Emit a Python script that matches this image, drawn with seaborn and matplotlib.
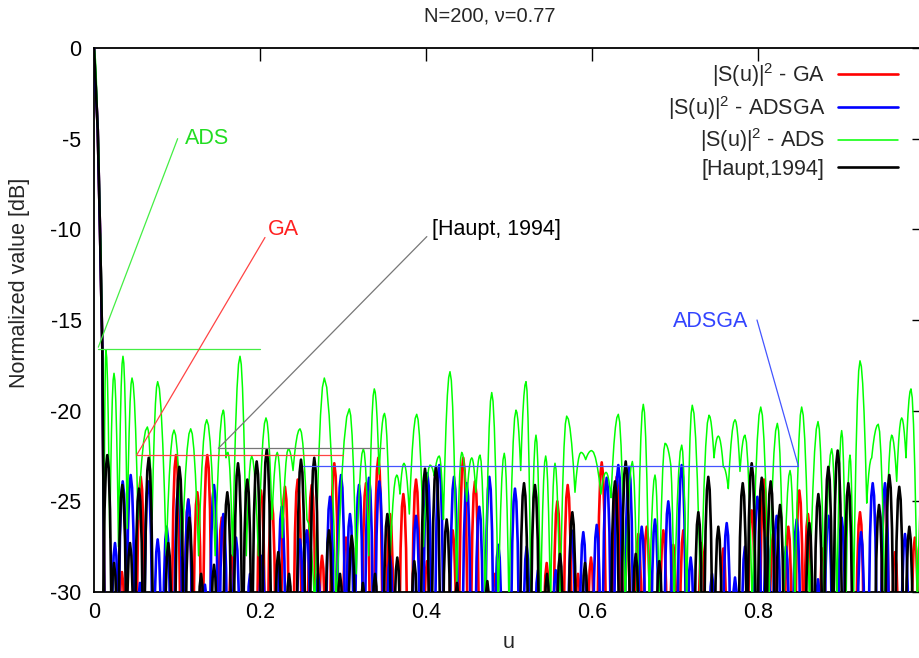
import matplotlib
matplotlib.use("Agg")
import matplotlib.pyplot as plt
import pandas as pd
import seaborn as sns
from matplotlib.lines import Line2D

# ---------------- data ----------------
TITLE = "N=200, ν=0.77"
X_LABEL = "u"
Y_LABEL = "Normalized value [dB]"
x_ticks = [0.0, 0.2, 0.4, 0.6, 0.8]
x_tick_labels = ["0", "0.2", "0.4", "0.6", "0.8"]
y_ticks = [0, -5, -10, -15, -20, -25, -30]

series_names = ["|S(u)|$^2$ - GA", "|S(u)|$^2$ - ADSGA", "|S(u)|$^2$ - ADS", "[Haupt,1994]"]

# main lobe (shared by all patterns)
main_u = [0.0, 0.0045, 0.0072, 0.0100, 0.0125]
main_db = [0.0, -4.5, -10.0, -16.5, -31.0]

# ADS pattern: peaks and troughs in order
ads_u = [0.0, 0.0045, 0.0072, 0.010, 0.0118, 0.0144, 0.019, 0.0241, 0.0295, 0.0349, 0.040, 0.0458,
         0.053, 0.0643, 0.070, 0.0767, 0.087, 0.0964, 0.106, 0.1165, 0.126, 0.1358, 0.146, 0.1558,
         0.159, 0.1614, 0.167, 0.1759, 0.1835, 0.190, 0.198, 0.2072, 0.2145, 0.2208, 0.227, 0.2341,
         0.2398, 0.2482, 0.2566, 0.266, 0.2775, 0.292, 0.3076, 0.316, 0.3245, 0.331, 0.3377, 0.3435,
         0.350, 0.357, 0.3647, 0.3687, 0.3735, 0.3799, 0.3888, 0.397, 0.4048, 0.410, 0.416, 0.421,
         0.4289, 0.437, 0.443, 0.449, 0.4551, 0.460, 0.4651, 0.4715, 0.4792, 0.487, 0.4943, 0.500,
         0.5084, 0.5141, 0.5205, 0.5265, 0.5325, 0.538, 0.5442, 0.550, 0.5554, 0.5615, 0.5695, 0.5795,
         0.5867, 0.5924, 0.5996, 0.6108, 0.6169, 0.6229, 0.6317, 0.640, 0.6486, 0.6545, 0.6618, 0.669,
         0.6759, 0.681, 0.688, 0.694, 0.699, 0.7081, 0.714, 0.7208, 0.731, 0.741, 0.747, 0.7522,
         0.7582, 0.7642, 0.7723, 0.7783, 0.7843, 0.793, 0.8033, 0.813, 0.8233, 0.831, 0.8386, 0.8445,
         0.8526, 0.862, 0.8723, 0.880, 0.8888, 0.895, 0.9008, 0.906, 0.9108, 0.915, 0.9229, 0.931,
         0.937, 0.9449, 0.953, 0.961, 0.9671, 0.9731, 0.9783, 0.9843, 0.992, 1.0]
ads_db = [0.0, -4.5, -10.0, -16.5, -28.5, -16.66, -27.0, -17.94, -27.5, -17.0, -26.5, -18.2,
          -26.0, -20.9, -26.0, -18.4, -28.0, -21.07, -28.0, -21.0, -28.0, -20.5, -28.0, -19.97,
          -22.6, -22.3, -28.0, -17.0, -28.0, -22.5, -28.0, -20.4, -26.0, -22.3, -27.0, -22.1,
          -23.3, -21.0, -26.0, -31.0, -18.2, -31.0, -19.9, -29.0, -22.1, -28.0, -18.8, -23.5,
          -20.15, -28.0, -23.55, -24.6, -22.9, -25.7, -20.2, -27.5, -23.0, -23.6, -22.5, -26.0,
          -17.85, -30.0, -22.3, -25.0, -22.6, -24.5, -22.45, -31.0, -19.0, -31.0, -22.35, -31.0,
          -19.97, -23.3, -18.4, -31.0, -21.35, -31.0, -22.5, -31.0, -22.9, -31.0, -20.3, -24.5,
          -22.3, -22.7, -22.2, -24.6, -23.4, -24.8, -20.2, -31.0, -22.8, -31.0, -19.65, -31.0,
          -23.55, -31.0, -21.8, -22.7, -31.0, -21.9, -31.0, -19.7, -31.0, -20.25, -22.6, -21.4,
          -23.1, -24.3, -20.5, -23.35, -21.35, -31.0, -19.8, -31.0, -20.7, -31.0, -23.3, -31.0,
          -19.8, -31.0, -20.6, -31.0, -22.1, -31.0, -21.1, -31.0, -22.45, -31.0, -17.25, -25.1,
          -22.6, -20.75, -31.0, -21.35, -23.9, -20.4, -22.6, -18.8, -31.0, -22.0]

# GA pattern: side-lobe peaks
ga_peak_u = [0.0337, 0.0563, 0.0988, 0.1136, 0.1245, 0.1365, 0.1539, 0.166, 0.2012, 0.2141, 0.2301,
             0.2454, 0.2623, 0.2747, 0.2895, 0.3036, 0.3277, 0.3425, 0.3566, 0.3727, 0.388, 0.4012,
             0.4322, 0.4449, 0.459, 0.483, 0.5454, 0.5582, 0.5707, 0.5831, 0.5988, 0.6117, 0.6298,
             0.6422, 0.6558, 0.6659, 0.6859, 0.698, 0.710, 0.7322, 0.7582, 0.7924, 0.8072, 0.8181,
             0.8365, 0.8498, 0.8602, 0.878, 0.9229, 0.953, 0.9651, 0.989]
ga_peak_db = [-28.9, -23.65, -22.45, -24.9, -24.5, -22.45, -25.9, -28.0, -24.4, -25.0, -24.2,
              -23.8, -24.1, -28.0, -22.9, -27.0, -24.0, -22.6, -25.7, -24.6, -23.8, -28.3,
              -26.6, -22.6, -23.9, -29.0, -28.4, -25.0, -24.1, -29.0, -28.1, -22.85, -23.65,
              -27.0, -26.8, -26.4, -26.6, -27.4, -26.6, -27.3, -27.6, -25.5, -23.8, -26.8,
              -26.4, -24.4, -25.7, -27.6, -25.6, -24.4, -27.8, -27.0]

# ADSGA pattern: side-lobe peaks
adsga_peak_u = [0.0253, 0.0346, 0.0442, 0.0554, 0.0654, 0.0767, 0.0876, 0.1016, 0.1136, 0.1337,
                0.1446, 0.1558, 0.1711, 0.188, 0.2024, 0.2261, 0.2482, 0.2563, 0.2699, 0.2843,
                0.2976, 0.3084, 0.3193, 0.3313, 0.3437, 0.3566, 0.388, 0.4016, 0.416, 0.4337,
                0.449, 0.4642, 0.4763, 0.4871, 0.5072, 0.5213, 0.5349, 0.5563, 0.5755, 0.5895,
                0.6057, 0.6177, 0.6317, 0.6446, 0.6599, 0.6759, 0.6919, 0.7081, 0.7189, 0.7446,
                0.7623, 0.7723, 0.7843, 0.7992, 0.8108, 0.8225, 0.8337, 0.8466, 0.8723, 0.8847,
                0.9008, 0.9241, 0.9382, 0.953, 0.9771]
adsga_peak_db = [-27.3, -23.9, -23.55, -29.5, -23.9, -27.1, -26.4, -24.2, -24.9, -29.6,
                 -24.1, -25.7, -27.0, -29.0, -28.0, -25.3, -27.1, -26.6, -29.0, -24.75,
                 -23.55, -25.7, -24.1, -23.7, -23.9, -28.0, -25.8, -23.45, -23.0, -23.65,
                 -24.0, -25.3, -23.65, -27.4, -24.3, -27.5, -28.8, -28.8, -26.6, -26.7,
                 -26.3, -23.7, -23.0, -23.1, -26.4, -26.0, -25.0, -23.0, -28.1, -29.0,
                 -26.2, -29.2, -27.5, -24.75, -27.0, -25.8, -27.5, -26.0, -29.3, -25.8,
                 -25.9, -26.7, -24.0, -24.0, -26.8]

# [Haupt, 1994] pattern: side-lobe peaks
haupt_peak_u = [0.016, 0.0241, 0.0341, 0.0434, 0.0542, 0.0659, 0.0895, 0.1028, 0.1148, 0.129,
                0.1446, 0.1606, 0.1735, 0.1847, 0.196, 0.2081, 0.222, 0.235, 0.2494, 0.2654,
                0.2831, 0.2964, 0.3105, 0.324, 0.3386, 0.3534, 0.3654, 0.3859, 0.3988, 0.412,
                0.4249, 0.4373, 0.4739, 0.5181, 0.5313, 0.5458, 0.5614, 0.5763, 0.5916, 0.6277,
                0.6406, 0.6527, 0.6811, 0.7281, 0.7401, 0.7522, 0.7816, 0.7924, 0.8045, 0.8153,
                0.8265, 0.8618, 0.8727, 0.8847, 0.896, 0.9088, 0.9458, 0.9582, 0.9702, 0.9823]
haupt_peak_db = [-22.45, -28.4, -24.1, -27.3, -24.3, -22.6, -27.3, -23.1, -25.9, -29.0,
                 -28.5, -24.5, -22.9, -23.8, -22.8, -22.15, -27.8, -29.0, -22.7, -22.6,
                 -26.6, -29.0, -26.9, -29.5, -29.0, -25.7, -28.1, -28.3, -23.2, -23.1,
                 -26.0, -29.5, -29.4, -24.0, -24.1, -29.0, -27.9, -25.6, -28.4, -23.9,
                 -22.8, -27.9, -28.3, -25.6, -23.65, -26.4, -24.0, -22.9, -23.7, -23.9,
                 -25.2, -26.2, -24.6, -23.1, -22.2, -24.0, -25.2, -23.55, -24.2, -26.4]

# annotations: label text, label position, leader line, level line
ann_labels = ["ADS", "GA", "[Haupt, 1994]", "ADSGA"]
ann_text_u = [0.1096, 0.2096, 0.4072, 0.6976]
ann_text_db = [-5.0, -10.0, -10.0, -15.1]
ann_lead_u = [(0.1008, 0.0052), (0.206, 0.0514), (0.401, 0.1498), (0.7988, 0.8486)]
ann_lead_db = [(-5.0, -16.5), (-10.45, -22.45), (-10.4, -22.08), (-15.0, -23.05)]
ann_level_u = [(0.005, 0.2), (0.0514, 0.3), (0.1498, 0.35), (0.2518, 0.8486)]
ann_level_db = [-16.62, -22.45, -22.08, -23.05]

# ---------------- styling ----------------
W, H, DPI = 920, 658, 100
FS = 15.5
FLOOR = -45.0
LOBE_W = 0.0066
# side-lobe drawing profile (offset in half-widths, dB below the peak)
SHAPE_DX = [-1.0, -0.9, -0.75, -0.5, -0.25, 0.0, 0.25, 0.5, 0.75, 0.9, 1.0]
SHAPE_DROP = [None, 16.1, 8.3, 3.0, 0.7, 0.0, 0.7, 3.0, 8.3, 16.1, None]
SEG_F = [0.0, 0.2, 0.4, 0.6, 0.8]
colors = ["#ff0000", "#0000ff", "#00ff00", "#000000"]
widths = [1.9, 1.9, 1.1, 1.9]
ann_colors = ["#22dd22", "#ff2020", "#000000", "#3344ff"]
ann_line_colors = ["#44ee44", "#ff4444", "#777777", "#4455ff"]

sns.set_style("white")
plt.rcParams["font.family"] = ["Liberation Sans", "DejaVu Sans"]
plt.rcParams["mathtext.default"] = "regular"
plt.rcParams["axes.unicode_minus"] = False


def lobe_frame(name, pu, pdb):
    rows = [(name, -1, u, d) for u, d in zip(main_u, main_db)]
    for k, (u, d) in enumerate(zip(pu, pdb)):
        for dx, drop in zip(SHAPE_DX, SHAPE_DROP):
            y = FLOOR if drop is None else d - drop
            rows.append((name, k, u + dx * LOBE_W, y))
    return pd.DataFrame(rows, columns=["series", "lobe", "u", "db"])


def profile_frame(name, ku, kdb):
    # joins successive peak / trough readings with lobe-like (flat-topped) segments
    rows = []
    for i in range(len(ku) - 1):
        u0, d0, u1, d1 = ku[i], kdb[i], ku[i + 1], kdb[i + 1]
        for f in SEG_F:
            if d0 >= d1:
                d = d0 - (d0 - d1) * f ** 2
            else:
                d = d1 - (d1 - d0) * (1 - f) ** 2
            rows.append((name, 0, u0 + f * (u1 - u0), d))
    rows.append((name, 0, ku[-1], kdb[-1]))
    return pd.DataFrame(rows, columns=["series", "lobe", "u", "db"])


frames = [
    lobe_frame(series_names[0], ga_peak_u, ga_peak_db),
    lobe_frame(series_names[1], adsga_peak_u, adsga_peak_db),
    profile_frame(series_names[2], ads_u, ads_db),
    lobe_frame(series_names[3], haupt_peak_u, haupt_peak_db),
]

fig = plt.figure(figsize=(W / DPI, H / DPI), dpi=DPI)
ax = fig.add_axes([94 / W, 66 / H, 830 / W, 544 / H])

for i, df in enumerate(frames):
    sns.lineplot(data=df, x="u", y="db", units="lobe", estimator=None, sort=False,
                 color=colors[i], lw=widths[i], ax=ax, legend=False, zorder=2 + i)

# annotations
for i, lab in enumerate(ann_labels):
    ax.plot(ann_lead_u[i], ann_lead_db[i], color=ann_line_colors[i], lw=0.9, zorder=7)
    ax.plot(ann_level_u[i], [ann_level_db[i]] * 2, color=ann_line_colors[i], lw=0.9, zorder=7)
    ax.text(ann_text_u[i], ann_text_db[i], lab, color=ann_colors[i], fontsize=FS,
            ha="left", va="center", zorder=8)

ax.set_xlim(0, 1)
ax.set_ylim(-30, 0)
ax.set_xticks(x_ticks)
ax.set_xticklabels(x_tick_labels)
ax.set_yticks(y_ticks)
ax.tick_params(direction="in", length=9, width=1, top=True, right=True,
               labelsize=FS, colors="black")
ax.tick_params(axis="x", pad=7)
ax.tick_params(axis="y", pad=9)
for s in ax.spines.values():
    s.set_linewidth(1.3)
    s.set_color("black")
ax.set_xlabel("")
ax.set_ylabel("")

fig.text(509 / W, 1 - 643 / H, X_LABEL, fontsize=FS, ha="center", va="center")
fig.text(20 / W, 1 - 283 / H, Y_LABEL, fontsize=FS, ha="center", va="center", rotation=90)
fig.text(490 / W, 1 - 16 / H, TITLE, fontsize=FS - 1, ha="center", va="center")

handles = [Line2D([], [], color=colors[i], lw=widths[i]) for i in range(4)]
fig.legend(handles, series_names, loc="upper right", bbox_to_anchor=(898 / W, 1 - 61 / H),
           frameon=False, markerfirst=False, fontsize=FS, handlelength=2.8,
           handletextpad=0.6, labelspacing=0.22, borderpad=0, borderaxespad=0)

fig.savefig("out.png", dpi=DPI)
